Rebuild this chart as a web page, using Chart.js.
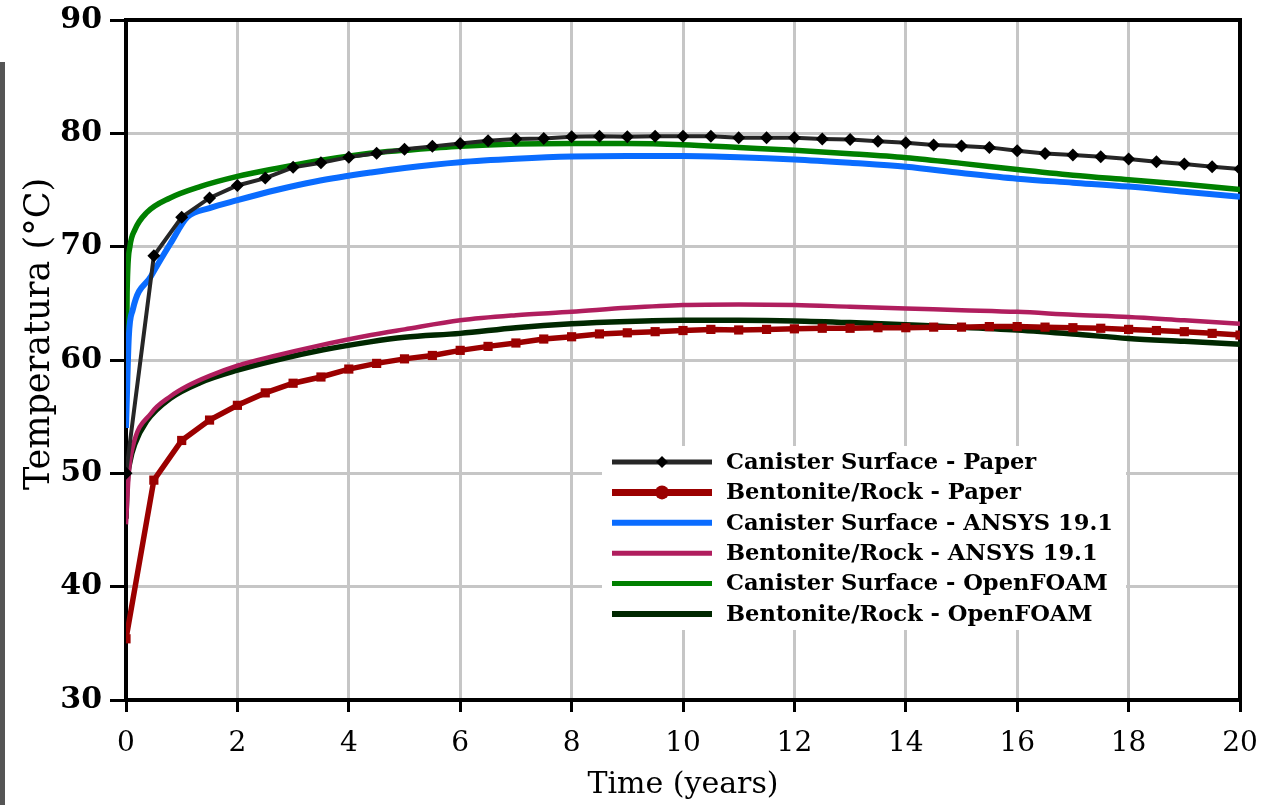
<!DOCTYPE html>
<html>
<head>
<meta charset="utf-8">
<script src="https://cdn.jsdelivr.net/npm/chart.js@4.4.0/dist/chart.umd.min.js"></script>
<style>
html, body { margin: 0; padding: 0; background: #fff; }
#wrap { position: relative; width: 1262px; height: 805px; }
#bar { position: absolute; left: 0; top: 62px; width: 5px; height: 743px; background: #555; }
</style>
</head>
<body>
<div id="wrap">
<canvas id="myChart" width="1262" height="805"></canvas>
<div id="bar"></div>
</div>
<script>
// time axes (years)
var paperTime = [0, 0.5, 1, 1.5, 2, 2.5, 3, 3.5, 4, 4.5, 5, 5.5, 6, 6.5, 7, 7.5, 8, 8.5, 9, 9.5, 10,
                 10.5, 11, 11.5, 12, 12.5, 13, 13.5, 14, 14.5, 15, 15.5, 16, 16.5, 17, 17.5, 18, 18.5, 19, 19.5, 20];
var ansysTime = [0, 0.05, 0.12, 0.45, 0.8, 1.1, 1.5, 2, 2.7, 3.4, 4.4, 5, 6, 7, 8, 9, 10, 11, 12, 13, 14, 15, 16, 17, 18, 19, 20];
var foamTime = [0, 0.02, 0.07, 0.16, 0.37, 0.79, 1.33, 2, 2.7, 3.54, 4.38, 5, 6, 7, 8, 9, 10, 11, 12, 13, 14, 15, 16, 17, 18, 19, 20];

// temperatures (°C)
var canisterPaper = [50, 69.2, 72.6, 74.3, 75.4, 76.05, 77.0, 77.4, 77.9, 78.25, 78.6, 78.85, 79.1, 79.35, 79.5, 79.55, 79.7, 79.75, 79.7, 79.75, 79.75,
                     79.75, 79.6, 79.6, 79.6, 79.5, 79.45, 79.3, 79.17, 78.97, 78.88, 78.76, 78.47, 78.23, 78.08, 77.94, 77.73, 77.5, 77.3, 77.06, 76.85];
var bentonitePaper = [35.4, 49.4, 52.9, 54.7, 56.0, 57.1, 57.95, 58.5, 59.2, 59.7, 60.1, 60.4, 60.85, 61.2, 61.5, 61.85, 62.05, 62.3, 62.4, 62.5, 62.6,
                      62.7, 62.65, 62.7, 62.75, 62.8, 62.8, 62.85, 62.85, 62.9, 62.9, 62.95, 62.95, 62.9, 62.85, 62.8, 62.7, 62.6, 62.5, 62.35, 62.2];
var canisterAnsys = [54, 62, 64.4, 67.4, 70.3, 72.6, 73.4, 74.1, 75.0, 75.75, 76.55, 76.95, 77.45, 77.75, 77.95, 78.0, 78.0, 77.9, 77.7, 77.4, 77.05, 76.5, 76.0, 75.65, 75.3, 74.85, 74.4];
var bentoniteAnsys = [45.5, 50, 52.3, 55.3, 56.8, 57.7, 58.6, 59.5, 60.4, 61.2, 62.2, 62.7, 63.5, 63.95, 64.25, 64.6, 64.85, 64.9, 64.85, 64.7, 64.55, 64.4, 64.25, 64.0, 63.8, 63.5, 63.2];
var canisterFoam = [55, 66, 70.0, 71.5, 73.0, 74.3, 75.3, 76.2, 76.9, 77.65, 78.25, 78.5, 78.85, 79.05, 79.1, 79.1, 79.0, 78.75, 78.5, 78.2, 77.85, 77.35, 76.8, 76.3, 75.9, 75.5, 75.05];
var bentoniteFoam = [46, 49, 51, 52.6, 54.6, 56.6, 58.0, 59.1, 60.0, 60.9, 61.6, 62.0, 62.35, 62.85, 63.2, 63.4, 63.5, 63.5, 63.45, 63.3, 63.1, 62.9, 62.65, 62.3, 61.9, 61.65, 61.4];

function pts(xs, ys) {
    return xs.map(function (x, i) { return { x: x, y: ys[i] }; });
}

var serif = '"DejaVu Serif", "Liberation Serif", serif';

// white legend block inside the plot, lower right
var legendBox = {
    id: 'legendBox',
    afterDatasetsDraw: function (chart) {
        var ctx = chart.ctx;
        ctx.save();
        ctx.fillStyle = '#fff';
        ctx.fillRect(602, 446, 524, 184);
        chart.data.datasets.forEach(function (ds, i) {
            var y = 462 + i * 30.4;
            ctx.strokeStyle = ds.borderColor;
            ctx.lineWidth = ds.legendWidth;
            ctx.beginPath();
            ctx.moveTo(612, y);
            ctx.lineTo(712, y);
            ctx.stroke();
            ctx.fillStyle = ds.pointBackgroundColor || ds.borderColor;
            if (ds.legendMark === 'diamond') {
                ctx.beginPath();
                ctx.moveTo(662, y - 6); ctx.lineTo(668, y); ctx.lineTo(662, y + 6); ctx.lineTo(656, y);
                ctx.closePath(); ctx.fill();
            } else if (ds.legendMark === 'circle') {
                ctx.beginPath();
                ctx.arc(662, y, 7, 0, Math.PI * 2);
                ctx.fill();
            }
            ctx.fillStyle = '#000';
            ctx.font = 'bold 22.6px ' + serif;
            ctx.textBaseline = 'middle';
            ctx.fillText(ds.label, 726, y + 1);
        });
        ctx.restore();
    }
};

// top and right frame lines, y axis title
var frame = {
    id: 'frame',
    beforeDatasetsDraw: function (chart) {
        var a = chart.chartArea, ctx = chart.ctx;
        ctx.save();
        ctx.strokeStyle = '#000';
        ctx.lineWidth = 4;
        ctx.beginPath();
        ctx.moveTo(a.left - 2, a.top);
        ctx.lineTo(a.right, a.top);
        ctx.lineTo(a.right, a.bottom + 2);
        ctx.stroke();
        ctx.translate(40, 334);
        ctx.rotate(-Math.PI / 2);
        ctx.fillStyle = '#000';
        ctx.font = '35px ' + serif;
        ctx.textAlign = 'center';
        ctx.textBaseline = 'middle';
        ctx.fillText('Temperatura (°C)', 0, 0);
        ctx.restore();
    }
};

var ctx = document.getElementById('myChart').getContext('2d');
var chart = new Chart(ctx, {
    type: 'line',
    data: {
        datasets: [{
            label: 'Canister Surface - Paper',
            data: pts(paperTime, canisterPaper),
            borderColor: '#262626',
            borderWidth: 4,
            pointStyle: 'rectRot',
            pointRadius: 6.5,
            pointBackgroundColor: '#000',
            pointBorderWidth: 0,
            legendWidth: 5,
            legendMark: 'diamond'
        },
        {
            label: 'Bentonite/Rock - Paper',
            data: pts(paperTime, bentonitePaper),
            borderColor: '#9b0000',
            borderWidth: 5.5,
            pointStyle: 'rect',
            pointRadius: 6.5,
            pointBackgroundColor: '#9b0000',
            pointBorderWidth: 0,
            legendWidth: 7,
            legendMark: 'circle'
        },
        {
            label: 'Canister Surface - ANSYS 19.1',
            data: pts(ansysTime, canisterAnsys),
            borderColor: '#0a6cff',
            borderWidth: 6,
            pointRadius: 0,
            cubicInterpolationMode: 'monotone',
            legendWidth: 6
        },
        {
            label: 'Bentonite/Rock - ANSYS 19.1',
            data: pts(ansysTime, bentoniteAnsys),
            borderColor: '#b01e5e',
            borderWidth: 4.5,
            pointRadius: 0,
            cubicInterpolationMode: 'monotone',
            legendWidth: 5
        },
        {
            label: 'Canister Surface - OpenFOAM',
            data: pts(foamTime, canisterFoam),
            borderColor: '#008000',
            borderWidth: 5.5,
            pointRadius: 0,
            cubicInterpolationMode: 'monotone',
            legendWidth: 5
        },
        {
            label: 'Bentonite/Rock - OpenFOAM',
            data: pts(foamTime, bentoniteFoam),
            borderColor: '#002800',
            borderWidth: 5.5,
            pointRadius: 0,
            cubicInterpolationMode: 'monotone',
            legendWidth: 6
        }]
    },
    options: {
        responsive: false,
        animation: false,
        layout: { padding: { top: 20, right: 22, left: 0, bottom: 0 } },
        plugins: { legend: { display: false }, tooltip: { enabled: false } },
        scales: {
            x: {
                type: 'linear', min: 0, max: 20,
                ticks: { stepSize: 2, color: '#000', padding: 15, maxRotation: 0, font: { family: serif, size: 28 } },
                grid: { color: '#c6c6c6', lineWidth: 3, tickLength: 12, tickColor: '#000', tickWidth: 3 },
                border: { color: '#000', width: 4 },
                title: { display: true, text: 'Time (years)', color: '#000', font: { family: serif, size: 30 }, padding: { top: 0, bottom: 2 } },
                afterFit: function (s) { s.height = 105; s.paddingLeft = 0; s.paddingRight = 0; }
            },
            y: {
                min: 30, max: 90,
                ticks: { stepSize: 10, color: '#000', padding: 8, font: { family: serif, size: 30, weight: 'bold' } },
                grid: { color: '#c6c6c6', lineWidth: 3, tickLength: 16, tickColor: '#000', tickWidth: 3 },
                border: { color: '#000', width: 4 },
                title: { display: false },
                afterFit: function (s) { s.width = 126; s.paddingTop = 0; s.paddingBottom = 0; }
            }
        }
    },
    plugins: [frame, legendBox]
});
</script>
</body>
</html>
